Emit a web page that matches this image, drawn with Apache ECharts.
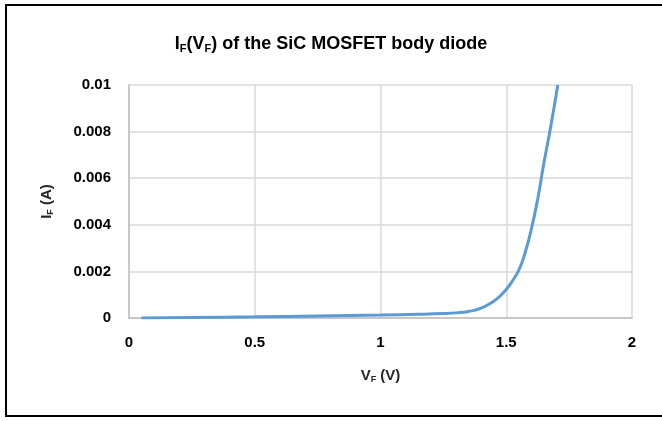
<!DOCTYPE html>
<html>
<head>
<meta charset="utf-8">
<script src="https://cdn.jsdelivr.net/npm/echarts@6/dist/echarts.min.js"></script>
<style>
  html, body { margin: 0; padding: 0; background: #fff; }
  #chart { width: 662px; height: 421px; }
</style>
</head>
<body>
<div id="chart"></div>
<script>
// forward voltage (V) and forward current (A)
var vf = [0.05, 0.25, 0.5, 0.75, 1.0, 1.15, 1.25, 1.3, 1.35, 1.4, 1.45, 1.475, 1.5, 1.525, 1.55, 1.575, 1.6, 1.625, 1.65, 1.675, 1.705]
var iF = [0.0, 0.00002, 0.00005, 0.00009, 0.00013, 0.00016, 0.00019, 0.00022, 0.00028, 0.00042, 0.00072, 0.00094, 0.00122, 0.0016, 0.00205, 0.0028, 0.00382, 0.0051, 0.00667, 0.0081, 0.01]
var xTicks = [0, 0.5, 1, 1.5, 2]
var yTicks = [0, 0.002, 0.004, 0.006, 0.008, 0.01]

var font = 'Liberation Sans'
var points = vf.map(function (v, i) { return [v, iF[i]] })

var nameRich = {
  m: { fontFamily: font, fontWeight: 'bold', fontSize: 15, color: '#262626' },
  s: { fontFamily: font, fontWeight: 'bold', fontSize: 9, color: '#262626', verticalAlign: 'bottom', padding: [7, 0, 0, 0] }
}

var chart = echarts.init(document.getElementById('chart'))
chart.setOption({
  animation: false,
  textStyle: { fontFamily: font },
  title: {
    text: '{m|I}{s|F}{m|(V}{s|F}{m|) of the SiC MOSFET body diode}',
    left: 'center',
    top: 29,
    textStyle: {
      rich: {
        m: { fontFamily: font, fontWeight: 'bold', fontSize: 18, color: '#000' },
        s: { fontFamily: font, fontWeight: 'bold', fontSize: 11, color: '#000', verticalAlign: 'bottom', padding: [9, 0, 0, 0] }
      }
    }
  },
  graphic: [{
    type: 'rect',
    shape: { x: 6, y: 5, width: 700, height: 411 },
    style: { fill: 'none', stroke: '#000', lineWidth: 2 },
    silent: true
  }],
  grid: { left: 129, right: 30, top: 85, bottom: 103 },
  xAxis: {
    type: 'value',
    min: xTicks[0],
    max: xTicks[xTicks.length - 1],
    interval: 0.5,
    name: '{m|V}{s|F}{m| (V)}',
    nameLocation: 'middle',
    nameGap: 50,
    nameTextStyle: { rich: nameRich },
    axisLine: { show: true, lineStyle: { color: '#BFBFBF', width: 1.5 } },
    axisTick: { show: false },
    axisLabel: {
      margin: 17,
      fontWeight: 'bold',
      fontSize: 15,
      color: '#000',
      formatter: function (v) { return String(v) }
    },
    splitLine: { show: true, lineStyle: { color: '#D9D9D9', width: 1.5 } }
  },
  yAxis: {
    type: 'value',
    min: yTicks[0],
    max: yTicks[yTicks.length - 1],
    interval: 0.002,
    name: '{m|I}{s|F}{m| (A)}',
    nameLocation: 'middle',
    nameGap: 74,
    nameRotate: 90,
    nameTextStyle: { rich: nameRich },
    axisLine: { show: true, lineStyle: { color: '#BFBFBF', width: 1.5 } },
    axisTick: { show: false },
    axisLabel: {
      margin: 18,
      fontWeight: 'bold',
      fontSize: 15,
      color: '#000',
      formatter: function (v) { return String(Number(v.toFixed(3))) }
    },
    splitLine: { show: true, lineStyle: { color: '#D9D9D9', width: 1.5 } }
  },
  series: [{
    type: 'line',
    data: points,
    smooth: 0.5,
    showSymbol: false,
    clip: true,
    lineStyle: { color: '#5B9BD5', width: 3 }
  }]
})
</script>
</body>
</html>
